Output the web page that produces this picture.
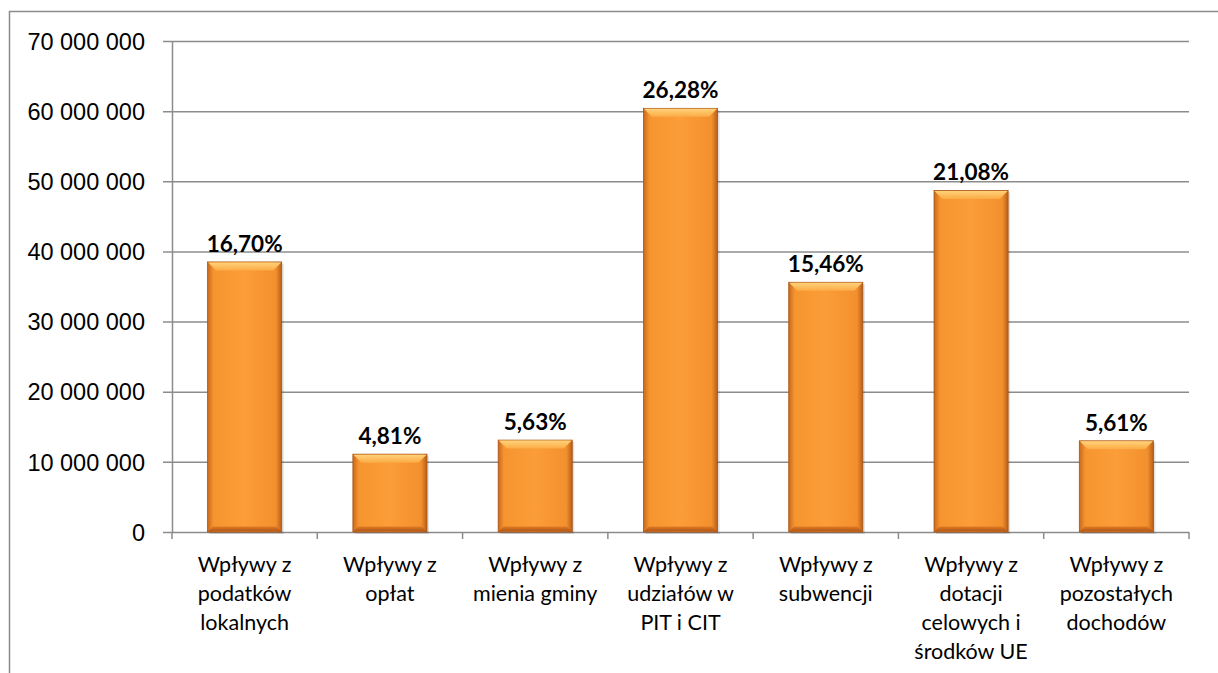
<!DOCTYPE html>
<html>
<head>
<meta charset="utf-8">
<script src="https://cdn.jsdelivr.net/npm/d3@7"></script>
<style>
  body { margin: 0; background: #fff; }
  svg { font-family: Lato, "Open Sans", sans-serif; }
</style>
</head>
<body>
<div id="root"></div>
<script>
var categories = [
  ["Wpływy z", "podatków", "lokalnych"],
  ["Wpływy z", "opłat"],
  ["Wpływy z", "mienia gminy"],
  ["Wpływy z", "udziałów w", "PIT i CIT"],
  ["Wpływy z", "subwencji"],
  ["Wpływy z", "dotacji", "celowych i", "środków UE"],
  ["Wpływy z", "pozostałych", "dochodów"]
];
var values = [38500000, 11100000, 13100000, 60400000, 35600000, 48700000, 13000000];
var shares = ["16,70%", "4,81%", "5,63%", "26,28%", "15,46%", "21,08%", "5,61%"];
var yTicks = [0, 10000000, 20000000, 30000000, 40000000, 50000000, 60000000, 70000000];

var width = 1218;
var height = 673;

var svg = d3
  .select("#root")
  .append("svg")
  .attr("width", width)
  .attr("height", height);

// outer frame of the chart
svg
  .append("path")
  .attr("d", "M9.5," + height + " V11.5 H" + width)
  .attr("fill", "none")
  .attr("stroke", "#8c8c8c")
  .attr("stroke-width", 1.5);

var defs = svg.append("defs");
var grad = defs
  .append("linearGradient")
  .attr("id", "barGrad")
  .attr("x1", "0%")
  .attr("x2", "100%");
grad.append("stop").attr("offset", "0%").attr("stop-color", "#c9681c");
grad.append("stop").attr("offset", "8%").attr("stop-color", "#f6952f");
grad.append("stop").attr("offset", "50%").attr("stop-color", "#fb9d38");
grad.append("stop").attr("offset", "92%").attr("stop-color", "#f3902e");
grad.append("stop").attr("offset", "100%").attr("stop-color", "#b85e18");

var topGrad = defs
  .append("linearGradient")
  .attr("id", "topGrad")
  .attr("x1", "0%")
  .attr("x2", "0%")
  .attr("y1", "0%")
  .attr("y2", "100%");
topGrad.append("stop").attr("offset", "0%").attr("stop-color", "#ffd27a");
topGrad.append("stop").attr("offset", "100%").attr("stop-color", "#fbab45");

var bottomGrad = defs
  .append("linearGradient")
  .attr("id", "bottomGrad")
  .attr("x1", "0%")
  .attr("x2", "0%")
  .attr("y1", "0%")
  .attr("y2", "100%");
bottomGrad.append("stop").attr("offset", "0%").attr("stop-color", "#e07a22");
bottomGrad.append("stop").attr("offset", "100%").attr("stop-color", "#b0561a");

var plotLeft = 172;
var plotRight = 1189;
var plotTop = 41;
var plotBottom = 532;

var xScale = d3
  .scaleBand()
  .domain(d3.range(categories.length))
  .range([plotLeft, plotRight])
  .paddingInner(0.49)
  .paddingOuter(0.245);

var yScale = d3
  .scaleLinear()
  .domain([0, 70000000])
  .range([plotBottom, plotTop]);

var fmt = function (v) {
  return d3.format(",")(v).replace(/,/g, " ");
};

// gridlines + y axis
var yAxis = d3
  .axisLeft(yScale)
  .tickValues(yTicks)
  .tickSize(-(plotRight - plotLeft))
  .tickSizeOuter(0)
  .tickPadding(27)
  .tickFormat(fmt);

var gy = svg
  .append("g")
  .attr("transform", "translate(" + plotLeft + ",0)")
  .call(yAxis);
gy.select(".domain").attr("stroke", "#8c8c8c").attr("stroke-width", 1.5);
gy.selectAll(".tick line")
  .attr("stroke", "#8c8c8c")
  .attr("stroke-width", 1.5)
  .attr("x1", -9);
gy.selectAll(".tick text")
  .attr("font-size", 23.5)
  .attr("fill", "#000")
  .attr("dy", "0.35em");

// x axis ticks between categories
var xTickPos = d3.range(categories.length + 1).map(function (i) {
  return plotLeft + (i * (plotRight - plotLeft)) / categories.length;
});
svg
  .append("g")
  .selectAll("line")
  .data(xTickPos)
  .enter()
  .append("line")
  .attr("x1", (d) => d)
  .attr("x2", (d) => d)
  .attr("y1", plotBottom)
  .attr("y2", plotBottom + 7)
  .attr("stroke", "#8c8c8c")
  .attr("stroke-width", 1.5);

// bars
var bars = svg
  .append("g")
  .selectAll("g")
  .data(values)
  .enter()
  .append("g");

bars
  .append("rect")
  .attr("x", (d, i) => xScale(i) + 2)
  .attr("y", (d) => yScale(d) + 2)
  .attr("width", xScale.bandwidth())
  .attr("height", (d) => plotBottom - yScale(d))
  .attr("fill", "#000")
  .attr("opacity", 0.12);

bars
  .append("rect")
  .attr("x", (d, i) => xScale(i))
  .attr("y", (d) => yScale(d))
  .attr("width", xScale.bandwidth())
  .attr("height", (d) => plotBottom - yScale(d))
  .attr("fill", "url(#barGrad)")
  .attr("stroke", "#a85314")
  .attr("stroke-width", 0.8);

bars
  .append("path")
  .attr("d", function (d, i) {
    var x0 = xScale(i) + 0.5;
    var x1 = xScale(i) + xScale.bandwidth() - 0.5;
    var y0 = yScale(d) + 0.5;
    var b = 8;
    return (
      "M" + x0 + "," + y0 + " L" + x1 + "," + y0 +
      " L" + (x1 - b) + "," + (y0 + b) + " L" + (x0 + b) + "," + (y0 + b) + " Z"
    );
  })
  .attr("fill", "url(#topGrad)");

bars
  .append("path")
  .attr("d", function (d, i) {
    var x0 = xScale(i) + 0.5;
    var x1 = xScale(i) + xScale.bandwidth() - 0.5;
    var y1 = plotBottom - 0.5;
    var b = 5;
    return (
      "M" + x0 + "," + y1 + " L" + x1 + "," + y1 +
      " L" + (x1 - b) + "," + (y1 - b) + " L" + (x0 + b) + "," + (y1 - b) + " Z"
    );
  })
  .attr("fill", "url(#bottomGrad)");

// data labels
svg
  .append("g")
  .selectAll("text")
  .data(shares)
  .enter()
  .append("text")
  .attr("x", (d, i) => xScale(i) + xScale.bandwidth() / 2)
  .attr("y", (d, i) => yScale(values[i]) - 10)
  .attr("text-anchor", "middle")
  .attr("font-size", 22.5)
  .attr("font-weight", "bold")
  .attr("fill", "#000")
  .text((d) => d);

// category labels
var catLabels = svg
  .append("g")
  .selectAll("text")
  .data(categories)
  .enter()
  .append("text")
  .attr("x", (d, i) => xScale(i) + xScale.bandwidth() / 2)
  .attr("y", 572)
  .attr("text-anchor", "middle")
  .attr("font-size", 21.5)
  .attr("fill", "#000");

catLabels
  .selectAll("tspan")
  .data((d) => d)
  .enter()
  .append("tspan")
  .attr("x", function () {
    return this.parentNode.getAttribute("x");
  })
  .attr("dy", (d, i) => (i === 0 ? 0 : 29))
  .text((d) => d);
</script>
</body>
</html>
